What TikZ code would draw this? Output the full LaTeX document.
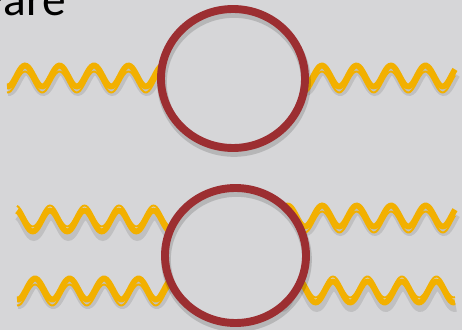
\documentclass[tikz,border=0pt]{standalone}
\usepackage{fontspec}
\setmainfont{Carlito}

\definecolor{bggray}{HTML}{D6D6D8}
\definecolor{wavegold}{HTML}{F2B000}
\definecolor{ringred}{HTML}{9C2E31}

% one wavy line: start x, end x, middle y, phase x, shift of the thin line
% (10.435 = 360/34.5, one period is 34.5 units)
\newcommand{\wavyline}[5]{%
  \draw[waveshadow] plot[domain=#1:#2, samples=140, smooth] ({\x+1}, {#3+5-10.5*sin(10.435*(\x-#4))});
  \draw[thickwave] plot[domain=#1:#2, samples=140, smooth] (\x, {#3-10.5*sin(10.435*(\x-#4))});
  \draw[thinwave] plot[domain=#1:#2, samples=140, smooth] (\x, {#3+#5-10.5*sin(10.435*(\x-#4))});
}

\begin{document}
\begin{tikzpicture}[x=0.02cm, y=-0.02cm,
    thickwave/.style={wavegold, line width=3.3pt},
    thinwave/.style={wavegold, line width=1.1pt},
    waveshadow/.style={black, opacity=0.1, line width=5pt},
    ringline/.style={ringred, line width=4.5pt},
    ringshadow/.style={black, opacity=0.15, line width=5.5pt}]
  \fill[bggray] (0,0) rectangle (462,330);
  \clip (0,0) rectangle (462,330);
  \useasboundingbox (0,0) rectangle (462,330);

  % --- titel, halvt ude af billedet ---
  \node[anchor=base west, inner sep=0pt, font=\fontsize{27}{27}\selectfont] (title) at (-20,16) {Pare};

  % --- oeverste diagram: en loekke ---
  \wavyline{7}{233}{76}{16.4}{6}
  \wavyline{233}{455}{76}{313.3}{6}
  \fill[bggray] (233,78.5) ellipse [x radius=72, y radius=69.5];
  \draw[ringshadow] (234,82.5) ellipse [x radius=72, y radius=69.5];
  \draw[ringline] (233,78.5) ellipse [x radius=72, y radius=69.5];

  % --- nederste diagram: to linjer gennem loekken ---
  \wavyline{17}{235}{221}{41.4}{-5}
  \wavyline{17}{235}{289}{26.4}{6}
  \wavyline{235}{455}{216}{313.5}{6}
  \wavyline{235}{455}{292}{324.3}{-5}
  \fill[bggray] (235.5,255.5) ellipse [x radius=70.5, y radius=67.5];
  \draw[ringshadow] (236.5,259.5) ellipse [x radius=70.5, y radius=67.5];
  \draw[ringline] (235.5,255.5) ellipse [x radius=70.5, y radius=67.5];
\end{tikzpicture}
\end{document}
